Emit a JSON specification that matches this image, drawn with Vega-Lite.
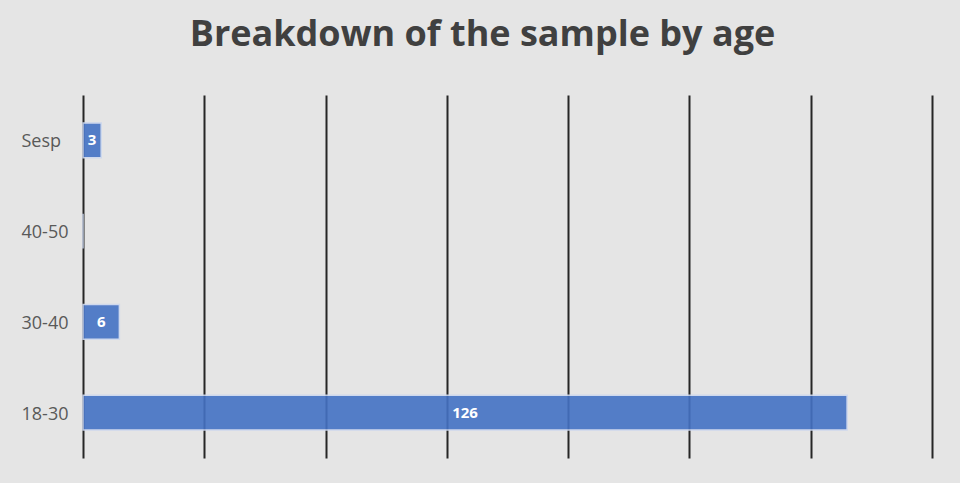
{
  "$schema": "https://vega.github.io/schema/vega-lite/v6.json",
  "width": 849,
  "height": 363,
  "autosize": {"type": "none"},
  "padding": {"left": 83, "top": 95, "right": 28, "bottom": 25},
  "background": "#e5e5e5",
  "title": {
    "text": "Breakdown of the sample by age",
    "font": "Open Sans",
    "fontSize": 36,
    "fontWeight": "bold",
    "color": "#404040",
    "anchor": "middle",
    "dx": -25,
    "offset": 41
  },
  "config": {"view": {"stroke": null}},
  "data": {
    "values": [
      {"age": "Sesp", "value": 3},
      {"age": "40-50", "value": 0},
      {"age": "30-40", "value": 6},
      {"age": "18-30", "value": 126}
    ]
  },
  "encoding": {
    "y": {
      "field": "age",
      "type": "nominal",
      "sort": ["Sesp", "40-50", "30-40", "18-30"],
      "scale": {"paddingInner": 0.615, "paddingOuter": 0.3075},
      "axis": {
        "title": null,
        "domain": false,
        "ticks": false,
        "tickSize": 0,
        "labelAlign": "left",
        "labelPadding": 62,
        "labelOffset": 2,
        "labelFont": "Open Sans",
        "labelFontSize": 18,
        "labelColor": "#595959"
      }
    }
  },
  "layer": [
    {
      "mark": {"type": "bar", "color": "#4472C4", "opacity": 0.9, "stroke": "#cdd8ee", "strokeWidth": 1.5},
      "encoding": {
        "x": {
          "field": "value",
          "type": "quantitative",
          "scale": {"domain": [0, 140], "nice": false},
          "axis": {
            "title": null,
            "labels": false,
            "ticks": false,
            "domain": false,
            "values": [0, 20, 40, 60, 80, 100, 120, 140],
            "grid": true,
            "gridColor": "#262626",
            "gridWidth": 2
          }
        }
      }
    },
    {
      "transform": [
        {"filter": "datum.value > 0"},
        {"calculate": "datum.value / 2", "as": "labelPos"}
      ],
      "mark": {"type": "text", "font": "Open Sans", "fontSize": 15, "fontWeight": "bold", "color": "white"},
      "encoding": {
        "x": {"field": "labelPos", "type": "quantitative"},
        "text": {"field": "value", "type": "quantitative"}
      }
    }
  ]
}
